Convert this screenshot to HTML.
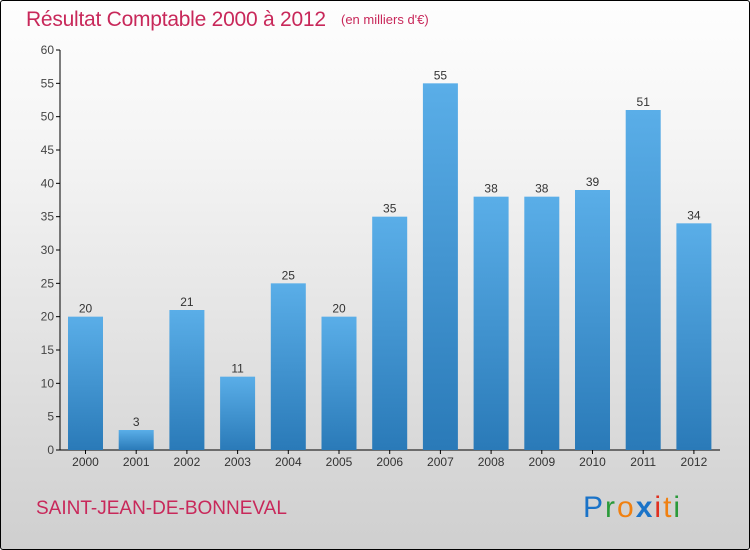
<!DOCTYPE html>
<html><head><meta charset="utf-8"><style>
html,body{margin:0;padding:0}
body{width:750px;height:550px;overflow:hidden;font-family:"Liberation Sans",sans-serif}
#frame{position:absolute;left:0;top:0;width:748px;height:548px;border:1px solid #000;border-radius:3px;background:linear-gradient(#fefefe,#f3f3f3 30%,#cfcfcf)}
</style></head><body>
<div id="frame">
<svg width="750" height="550" style="position:absolute;left:-1px;top:-1px">
<defs><linearGradient id="bg" x1="0" y1="0" x2="0" y2="1"><stop offset="0" stop-color="#5aaee8"/><stop offset="1" stop-color="#2a7ab8"/></linearGradient></defs>
<text x="26" y="26" font-size="21" fill="#c8285a" textLength="300">Résultat Comptable 2000 à 2012</text>
<text x="341" y="24" font-size="13" fill="#c8285a">(en milliers d'€)</text>
<g id="axes"></g><g id="bars"></g>
<text x="36" y="514" font-size="19" fill="#c8285a">SAINT-JEAN-DE-BONNEVAL</text>
<text x="583" y="517" font-size="30" letter-spacing="2" font-family="Liberation Sans"><tspan fill="#1a73c8">P</tspan><tspan fill="#2a9a3a">r</tspan><tspan fill="#f08010">o</tspan><tspan fill="#1a73c8" font-weight="bold">x</tspan><tspan fill="#e03020">i</tspan><tspan fill="#f08010">t</tspan><tspan fill="#2a9a3a">i</tspan></text>
</svg></div>
<script>
const categories=["2000","2001","2002","2003","2004","2005","2006","2007","2008","2009","2010","2011","2012"];
const values=[20,3,21,11,25,20,35,55,38,38,39,51,34];
const yTicks=[0,5,10,15,20,25,30,35,40,45,50,55,60];
const NS="http://www.w3.org/2000/svg";
const y=v=>450-v*400/60;
const x=i=>85.5+i*50.7;
function mk(tag,attrs,parent){const e=document.createElementNS(NS,tag);for(const k in attrs)e.setAttribute(k,attrs[k]);parent.appendChild(e);return e;}
const ax=document.getElementById('axes'),bg=document.getElementById('bars');
let l=mk('line',{x1:60,y1:50,x2:60,y2:450,stroke:'#000'},ax);


l=mk('line',{x1:60,y1:450,x2:720,y2:450,stroke:'#000'},ax);


yTicks.forEach(t=>{
 mk('line',{x1:56,y1:y(t),x2:60,y2:y(t),stroke:'#000'},ax);
 const tx=mk('text',{x:54,y:y(t)+4,'font-size':12,fill:'#444','text-anchor':'end'},ax);tx.textContent=t;
 
 
});
categories.forEach((c,i)=>{
 const r=mk('rect',{x:x(i)-17.5,y:y(values[i]),width:35,height:450-y(values[i]),fill:'url(#bg)'},bg);
 
 
 const v=mk('text',{x:x(i),y:y(values[i])-4,'font-size':12,fill:'#333','text-anchor':'middle'},bg);v.textContent=values[i];
 
 
 mk('line',{x1:x(i),y1:450,x2:x(i),y2:454,stroke:'#000'},ax);
 const t=mk('text',{x:x(i),y:466,'font-size':12,fill:'#333','text-anchor':'middle'},ax);t.textContent=c;
 
 
});
</script>
</body></html>
